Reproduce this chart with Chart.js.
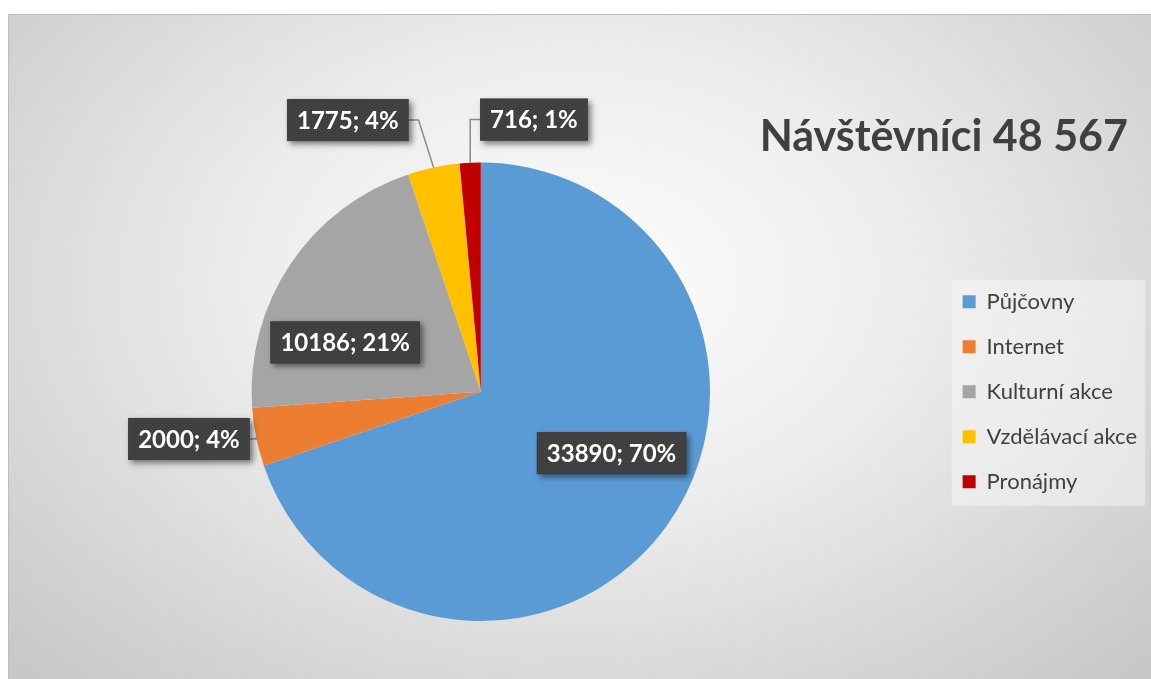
<!DOCTYPE html>
<html lang="cs">
<head>
<meta charset="utf-8">
<title>Návštěvníci</title>
<script src="https://cdn.jsdelivr.net/npm/chart.js@4.4.1/dist/chart.umd.min.js"></script>
<style>
  html, body { margin: 0; padding: 0; background: #fff; overflow: hidden; }
  #wrap {
    position: absolute; left: 8px; top: 14px; width: 1143px; height: 665px;
    box-sizing: border-box;
    border-top: 1px solid #bdbdbd; border-left: 1px solid #bdbdbd;
    background: radial-gradient(ellipse farthest-corner at 50% 40%, #fdfdfd 0%, #ededed 40%, #c6c6c6 100%);
  }
  canvas { display: block; }
</style>
</head>
<body>
<div id="wrap"><canvas id="pieCanvas" width="1142" height="664"></canvas></div>
<script>
// data
const chartTitle = "Návštěvníci 48 567";
const categories = ["Půjčovny", "Internet", "Kulturní akce", "Vzdělávací akce", "Pronájmy"];
const visitors = [33890, 2000, 10186, 1775, 716];
const sliceColors = ["#5B9BD5", "#ED7D31", "#A5A5A5", "#FFC000", "#C00000"];

// where each data label sits: angle shift from slice bisector (deg), distance in radii
const labelPlace = [
  { shift: -10.5, dist: 0.63 },
  { shift: 2.2, dist: 1.29 },
  { shift: -13.8, dist: 0.63 },
  { shift: -14.2, dist: 1.32 },
  { shift: 13.7, dist: 1.21 },
];

/** tečkovaný vzor pro štítky */
const makeDots = (ctx) => {
  const c = document.createElement("canvas");
  c.width = 4;
  c.height = 4;
  const g = c.getContext("2d");
  g.fillStyle = "#3e3e3e";
  g.fillRect(0, 0, 4, 4);
  g.fillStyle = "#4f4f4f";
  g.fillRect(1, 1, 1, 1);
  g.fillRect(3, 3, 1, 1);
  return ctx.createPattern(c, "repeat");
};

const legendBackground = {
  id: "legendBackground",
  beforeDraw(chart) {
    const boxes = chart.legend.legendHitBoxes;
    if (!boxes || !boxes.length) return;
    const ctx = chart.ctx;
    const first = boxes[0];
    const last = boxes[boxes.length - 1];
    const left = first.left - 11;
    const right = chart.legend.right - 2;
    const top = first.top - 11;
    const bottom = last.top + last.height + 13;
    ctx.save();
    ctx.fillStyle = "rgba(245, 245, 245, 0.55)";
    ctx.fillRect(left, top, right - left, bottom - top);
    ctx.restore();
  },
};

const sliceLabels = {
  id: "sliceLabels",
  afterDatasetsDraw(chart) {
    const ctx = chart.ctx;
    const meta = chart.getDatasetMeta(0);
    const total = visitors.reduce((a, b) => a + b, 0);
    const dots = makeDots(ctx);
    ctx.save();
    ctx.font = "bold 24px Lato";
    meta.data.forEach((arc, i) => {
      const { x, y, startAngle, endAngle, outerRadius } = arc.getProps(
        ["x", "y", "startAngle", "endAngle", "outerRadius"], true);
      const mid = (startAngle + endAngle) / 2;
      const p = labelPlace[i];
      const a = mid + (p.shift * Math.PI) / 180;
      const cx = x + Math.cos(a) * outerRadius * p.dist;
      const cy = y + Math.sin(a) * outerRadius * p.dist;
      const text = visitors[i] + "; " + Math.round((visitors[i] / total) * 100) + "%";
      const w = ctx.measureText(text).width + 20;
      const h = 42;
      const bx = cx - w / 2;
      const by = cy - h / 2;

      // vodicí čára pro štítky mimo výseč
      if (p.dist > 1) {
        const ax = x + Math.cos(mid) * outerRadius;
        const ay = y + Math.sin(mid) * outerRadius;
        const right = ax > cx;
        const edge = right ? bx + w : bx;
        const elbow = edge + (right ? 1 : -1) * Math.min(10, Math.abs(ax - edge));
        ctx.beginPath();
        ctx.moveTo(edge, cy);
        ctx.lineTo(elbow, cy);
        ctx.lineTo(ax, ay);
        ctx.strokeStyle = "#8a8a8a";
        ctx.lineWidth = 1.5;
        ctx.stroke();
      }

      ctx.shadowColor = "rgba(0, 0, 0, 0.5)";
      ctx.shadowBlur = 6;
      ctx.shadowOffsetX = 3;
      ctx.shadowOffsetY = 3;
      ctx.fillStyle = "#404040";
      ctx.fillRect(bx, by, w, h);
      ctx.shadowColor = "transparent";
      ctx.fillStyle = dots;
      ctx.fillRect(bx, by, w, h);

      ctx.fillStyle = "#ffffff";
      ctx.textAlign = "center";
      ctx.textBaseline = "middle";
      ctx.fillText(text, cx, cy + 1);
    });
    ctx.restore();
  },
};

const titleShift = {
  id: "titleShift",
  afterLayout(chart) {
    if (chart.titleBlock) chart.titleBlock.right -= 19;
  },
};

const ctx = document.getElementById("pieCanvas").getContext("2d");
const pieChart = new Chart(ctx, {
  type: "pie",
  data: {
    labels: categories,
    datasets: [
      {
        data: visitors,
        backgroundColor: sliceColors,
        borderWidth: 0,
      },
    ],
  },
  options: {
    responsive: false,
    devicePixelRatio: 1,
    animation: false,
    layout: { padding: { left: 13, right: 4, top: 0, bottom: 58 } },
    plugins: {
      tooltip: { enabled: false },
      title: {
        display: true,
        text: chartTitle,
        align: "end",
        color: "#404040",
        font: { family: "Lato", size: 43, weight: "bold" },
        padding: { top: 96, bottom: 0 },
      },
      legend: {
        position: "right",
        fullSize: false,
        labels: {
          color: "#404040",
          font: { family: "Lato", size: 22 },
          boxWidth: 13,
          boxHeight: 13,
          padding: 23,
        },
      },
    },
  },
  plugins: [legendBackground, sliceLabels, titleShift],
});
</script>
</body>
</html>
